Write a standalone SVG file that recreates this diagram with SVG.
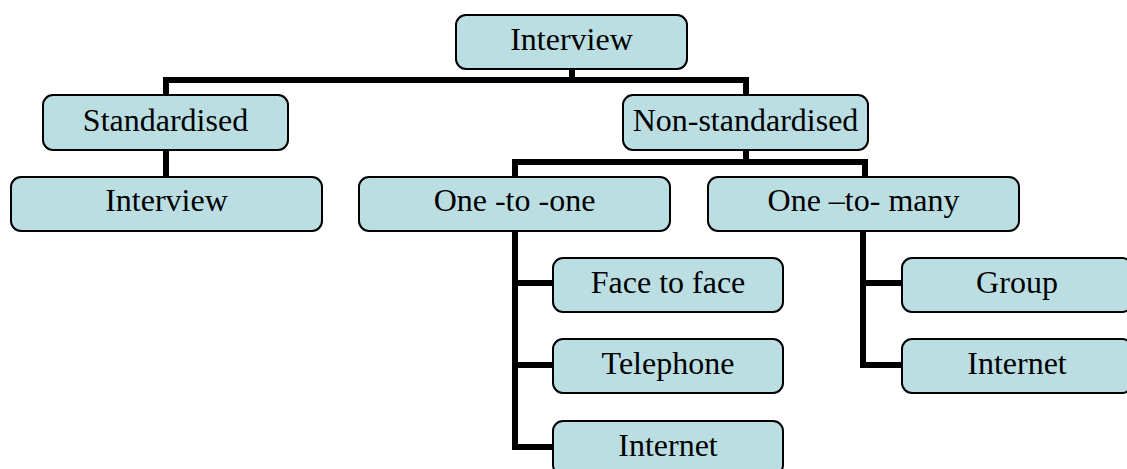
<svg xmlns="http://www.w3.org/2000/svg" width="1127" height="469" viewBox="0 0 1127 469">
<style>
.box{fill:#BBDEE3;stroke:#000;stroke-width:2}
.lbl{font-family:"Liberation Serif","Times New Roman",serif;font-size:32px;fill:#000;text-anchor:middle}
.conn{fill:none;stroke:#000;stroke-width:6;stroke-linejoin:miter;stroke-linecap:butt}
</style>
<rect width="1127" height="469" fill="#fff"/>
<g id="connectors">
<path class="conn" d="M572,69 V80 M166,95 V80 H746 V95"/>
<path class="conn" d="M166,150 V177"/>
<path class="conn" d="M746,150 V162 M515,177 V162 H865 V177"/>
<path class="conn" d="M515,231 V447 H553 M515,283 H553 M515,365 H553"/>
<path class="conn" d="M863,231 V365 H902 M863,283 H902"/>
</g>
<g id="n-interview-top"><rect class="box" x="456" y="15" width="231" height="54" rx="10"/><text class="lbl" x="571.5" y="50">Interview</text></g>
<g id="n-standardised"><rect class="box" x="43" y="95" width="245" height="55" rx="10"/><text class="lbl" x="165.5" y="131">Standardised</text></g>
<g id="n-nonstandardised"><rect class="box" x="623" y="95" width="245" height="55" rx="10"/><text class="lbl" x="745.5" y="131">Non-standardised</text></g>
<g id="n-interview-left"><rect class="box" x="11" y="177" width="311" height="54" rx="10"/><text class="lbl" x="166.5" y="211">Interview</text></g>
<g id="n-onetoone"><rect class="box" x="359" y="177" width="311" height="54" rx="10"/><text class="lbl" x="514.5" y="211">One -to -one</text></g>
<g id="n-onetomany"><rect class="box" x="708" y="177" width="311" height="54" rx="10"/><text class="lbl" x="863.5" y="211">One –to- many</text></g>
<g id="n-facetoface"><rect class="box" x="553" y="258" width="230" height="54" rx="10"/><text class="lbl" x="668" y="293">Face to face</text></g>
<g id="n-telephone"><rect class="box" x="553" y="339" width="230" height="54" rx="10"/><text class="lbl" x="668" y="374">Telephone</text></g>
<g id="n-internet1"><rect class="box" x="553" y="421" width="230" height="54" rx="10"/><text class="lbl" x="668" y="456">Internet</text></g>
<g id="n-group"><rect class="box" x="902" y="258" width="230" height="54" rx="10"/><text class="lbl" x="1017" y="293">Group</text></g>
<g id="n-internet2"><rect class="box" x="902" y="339" width="230" height="54" rx="10"/><text class="lbl" x="1017" y="374">Internet</text></g>
</svg>
